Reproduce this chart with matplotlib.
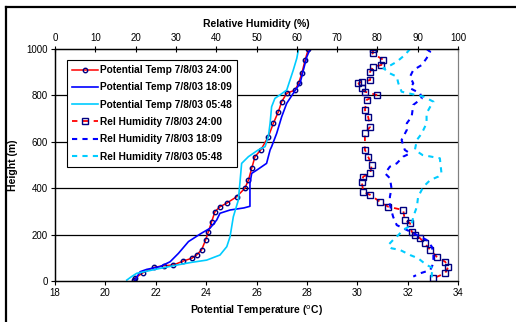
import numpy as np
import matplotlib.pyplot as plt
from matplotlib.lines import Line2D

plt.rcParams['font.family'] = ['Liberation Sans', 'DejaVu Sans']

# potential temperature profiles (deg C vs height m)
pt_2400_t = [21.15, 21.18, 21.5, 21.94, 22.33, 22.7, 23.09, 23.43, 23.62, 23.82, 23.98, 24.09,
             24.22, 24.35, 24.55, 24.81, 25.21, 25.54, 25.68, 25.81, 25.94, 26.17, 26.47,
             26.67, 26.87, 27.0, 27.2, 27.53, 27.67, 27.8, 27.93, 28.06]
pt_2400_h = [3, 13, 36, 59, 66, 69, 86, 98, 112, 134, 177, 213,
             256, 299, 320, 335, 363, 400, 435, 486, 536, 565, 622,
             680, 730, 773, 809, 823, 852, 895, 953, 1000]

pt_1809_t = [21.18, 21.38, 21.64, 22.17, 22.57, 22.9, 23.3, 23.8, 24.15, 24.42, 24.55, 24.95,
             25.5, 25.74, 25.74, 25.74, 25.81, 26.01, 26.4, 26.54, 26.6, 26.8, 27.0, 27.2,
             27.46, 27.73, 27.86, 28.0, 28.13]
pt_1809_h = [4, 40, 50, 62, 83, 119, 170, 205, 227, 263, 292, 306,
             315, 322, 378, 421, 464, 478, 507, 565, 579, 636, 708, 766,
             809, 852, 909, 967, 1000]

pt_0548_t = [20.85, 21.04, 21.24, 22.2, 22.9, 23.4, 24.02, 24.55, 24.82, 24.95, 25.08, 25.28,
             25.34, 25.41, 25.68, 26.07, 26.34, 26.47, 26.54, 26.6, 26.73, 26.93, 27.2,
             27.33, 27.46, 27.6, 27.67]
pt_0548_h = [4, 19, 33, 55, 70, 80, 90, 112, 148, 191, 277, 349,
             421, 507, 536, 565, 579, 622, 680, 751, 787, 802, 823,
             866, 909, 960, 1000]

# relative humidity profiles (% vs height m)
rh_2400 = [79.0, 78.8, 81.5, 81.0, 79.0, 78.2, 78.2, 76.1, 75.3, 76.1, 76.9, 79.8, 77.3,
           76.9, 77.7, 78.2, 76.9, 76.9, 77.7, 78.6, 78.2, 76.5, 76.1, 76.5, 78.2, 80.6,
           82.7, 86.4, 86.8, 88.1, 88.5, 89.3, 90.6, 91.8, 93.1, 94.7, 96.8, 97.6, 96.8, 93.9]
rh_2400_h = [1000, 981, 953, 931, 924, 903, 866, 859, 852, 831, 816, 802, 780,
             737, 708, 665, 636, 565, 536, 500, 464, 450, 428, 385, 371, 342,
             320, 306, 263, 249, 213, 198, 184, 162, 134, 105, 83, 62, 33, 12]

rh_1809 = [92.2, 93.1, 92.2, 91.0, 88.9, 88.1, 88.9, 88.1, 90.6, 91.0, 88.9, 88.5, 87.3,
           87.3, 86.0, 86.8, 88.1, 86.4, 84.8, 83.1, 81.9, 83.1, 83.5, 83.1, 83.1, 83.9,
           84.8, 87.3, 89.8, 92.2, 93.5, 93.9, 93.9, 93.1, 90.6, 88.9]
rh_1809_h = [1000, 988, 960, 931, 909, 881, 852, 831, 809, 787, 759, 708, 680,
             651, 608, 565, 550, 536, 507, 493, 464, 443, 400, 363, 328, 277,
             241, 220, 198, 177, 148, 119, 76, 47, 33, 19]

rh_0548 = [88.1, 86.8, 84.8, 82.7, 81.5, 83.1, 84.8, 85.2, 86.0, 87.7, 91.4, 93.9, 93.1,
           92.2, 92.2, 91.0, 89.8, 89.3, 91.2, 95.5, 95.9, 95.1, 93.1, 91.4, 90.1, 89.8,
           88.9, 88.5, 86.4, 85.2, 83.9, 82.7, 83.5, 85.6, 88.1, 90.1, 92.2, 93.9, 93.5, 93.5]
rh_0548_h = [1000, 974, 945, 924, 917, 895, 881, 852, 816, 809, 795, 773, 751,
             723, 680, 636, 608, 565, 543, 529, 464, 450, 435, 406, 363, 320,
             277, 241, 220, 198, 177, 155, 141, 134, 112, 98, 69, 55, 33, 12]

fig = plt.figure(figsize=(5.16, 3.22), dpi=100)
ax = fig.add_axes([55/516, 41/322, 403/516, 232/322])
ax2 = ax.twiny()

l1, = ax.plot(pt_2400_t, pt_2400_h, color='red', lw=1.1, marker='o', ms=3.2,
              mfc='none', mec='#000080', mew=1.0, label='Potential Temp 7/8/03 24:00')
l2, = ax.plot(pt_1809_t, pt_1809_h, color='#0000ff', lw=1.2, label='Potential Temp 7/8/03 18:09')
l3, = ax.plot(pt_0548_t, pt_0548_h, color='#00ccff', lw=1.2, label='Potential Temp 7/8/03 05:48')
l4, = ax2.plot(rh_2400, rh_2400_h, color='red', lw=1.3, ls=(0, (3, 3)), marker='s', ms=3.8,
               mfc='none', mec='#000080', mew=1.0, label='Rel Humidity 7/8/03 24:00')
l5, = ax2.plot(rh_1809, rh_1809_h, color='#0000ff', lw=1.5, ls=(0, (2.5, 2.5)),
               label='Rel Humidity 7/8/03 18:09')
l6, = ax2.plot(rh_0548, rh_0548_h, color='#00ccff', lw=1.5, ls=(0, (2.5, 2.5)),
               label='Rel Humidity 7/8/03 05:48')

ax.set_xlim(18, 34)
ax.set_ylim(0, 1000)
ax.set_xticks(np.arange(18, 35, 2))
ax.set_yticks(np.arange(0, 1001, 200))
ax2.set_xlim(0, 100)
ax2.set_xticks(np.arange(0, 101, 10))

for y in [200, 400, 600, 800]:
    ax.axhline(y, color='black', lw=0.9, zorder=0)

ax.tick_params(axis='both', labelsize=7, direction='out', length=3, width=0.8, pad=2)
ax2.tick_params(axis='x', labelsize=7, direction='inout', length=5, width=0.8, pad=2)
ax.spines['right'].set_color('#808080')
ax2.spines['right'].set_color('#808080')
for a in (ax, ax2):
    a.spines['left'].set_linewidth(0.9)
    a.spines['top'].set_linewidth(0.9)
    a.spines['bottom'].set_linewidth(0.9)

ax.set_xlabel(r'Potential Temperature ($^{\mathrm{o}}$C)', fontsize=7.5, fontweight='bold', labelpad=4)
ax.set_ylabel('Height (m)', fontsize=7.5, fontweight='bold', labelpad=6)
ax2.set_xlabel('Relative Humidity (%)', fontsize=7.5, fontweight='bold', labelpad=4)

leg = ax.legend(handles=[l1, l2, l3, l4, l5, l6], loc='upper left',
                bbox_to_anchor=(12/403, 221/232), borderaxespad=0,
                prop={'size': 7.3, 'weight': 'bold'}, frameon=True, fancybox=False,
                edgecolor='black', framealpha=1, handlelength=2.6, handletextpad=0.2,
                labelspacing=0.72, borderpad=0.5)
leg.get_frame().set_linewidth(0.8)
leg.set_zorder(5)

# outer frame of the chart area (only top and left edges visible)
fig.add_artist(Line2D([6/516, 1], [1 - 7/322, 1 - 7/322], color='black', lw=1.6,
                      transform=fig.transFigure))
fig.add_artist(Line2D([6/516, 6/516], [0, 1 - 7/322], color='black', lw=1.6,
                      transform=fig.transFigure))

fig.savefig('out.png', dpi=100)
